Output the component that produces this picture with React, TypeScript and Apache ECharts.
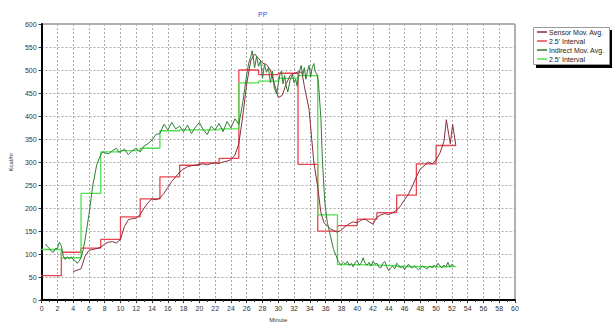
import React, { useEffect, useRef } from "react";
import * as echarts from "echarts";

const xTicks = { min: 0, max: 60, interval: 2 };
const yTicks = { min: 0, max: 600, interval: 50 };

const seriesNames = ["Sensor Mov. Avg.", "2.5' Interval", "Indirect Mov. Avg.", "2.5' Interval"];
const seriesColors = ["#8c2d3c", "#ea4450", "#2f7d32", "#4fe04f"];

// Sensor 2.5' interval averages (start minute, value)
const sensorInterval: [number, number][] = [
  [0, 53], [2.5, 104], [5, 113], [7.5, 132], [10, 181], [12.5, 220], [15, 268], [17.5, 293],
  [20, 298], [22.5, 308], [25, 500], [27.5, 490], [30, 493], [32.5, 295], [35, 150], [37.5, 162],
  [40, 176], [42.5, 190], [45, 228], [47.5, 296], [50, 336], [52.5, 336],
];

// Indirect 2.5' interval averages
const indirectInterval: [number, number][] = [
  [0, 110], [2.5, 92], [5, 232], [7.5, 322], [10, 325], [12.5, 330], [15, 368], [17.5, 370],
  [20, 370], [22.5, 372], [25, 472], [27.5, 476], [30, 482], [32.5, 488], [35, 185], [37.5, 77],
  [40, 76], [42.5, 75], [45, 73], [47.5, 72], [50, 73], [52.5, 73],
];

// Sensor moving average
const sensorMA: [number, number][] = [
  [4.0, 62], [4.5, 65], [5.0, 68], [5.5, 95], [6.0, 108], [6.5, 110], [7.0, 112], [7.5, 115],
  [8.0, 122], [8.5, 126], [9.0, 127], [9.5, 124], [10.0, 132], [10.5, 160], [11.0, 175], [11.5, 177],
  [12.0, 178], [12.5, 186], [13.0, 200], [13.5, 212], [14.0, 220], [14.5, 218], [15.0, 222], [15.5, 232],
  [16.0, 245], [16.5, 258], [17.0, 268], [17.5, 278], [18.0, 285], [18.5, 290], [19.0, 292], [19.5, 293],
  [20.0, 295], [20.5, 296], [21.0, 294], [21.5, 297], [22.0, 298], [22.5, 297], [23.0, 300], [23.5, 302],
  [24.0, 305], [24.5, 315], [25.0, 340], [25.5, 400], [26.0, 470], [26.5, 520], [27.0, 535], [27.5, 525],
  [28.0, 515], [28.5, 512], [29.0, 500], [29.5, 470], [30.0, 440], [30.5, 445], [31.0, 470], [31.5, 488],
  [32.0, 492], [32.5, 496], [33.0, 495], [33.3, 465], [33.9, 415], [34.5, 300], [35.0, 245], [35.4, 190],
  [35.8, 168], [36.6, 155], [37.4, 148], [37.9, 151], [38.5, 160], [39.0, 166], [39.5, 170], [40.0, 168],
  [40.5, 174], [41.0, 176], [41.5, 170], [42.0, 165], [42.5, 180], [43.0, 185], [43.5, 188], [44.0, 186],
  [44.5, 190], [45.0, 195], [45.5, 205], [46.0, 218], [46.5, 230], [47.0, 248], [47.5, 268], [48.0, 285],
  [48.5, 292], [49.0, 300], [49.5, 296], [50.0, 305], [50.5, 320], [51.0, 345], [51.3, 392], [51.6, 360],
  [51.8, 340], [52.1, 382], [52.5, 336],
];

// Indirect moving average
const indirectMA: [number, number][] = [
  [0.5, 122], [0.75, 116], [1.0, 112], [1.25, 106], [1.5, 104], [1.75, 112], [2.0, 112], [2.25, 126],
  [2.5, 118], [2.75, 96], [3.0, 88], [3.25, 94], [3.5, 90], [3.75, 94], [4.0, 88], [4.25, 86],
  [4.5, 80], [4.75, 84], [5.0, 92], [5.25, 108], [5.5, 130], [6.0, 185], [6.5, 250], [7.0, 295],
  [7.5, 316], [7.75, 322], [8.0, 320], [8.5, 318], [9.0, 325], [9.5, 330], [9.75, 322], [10.0, 322],
  [10.5, 328], [11.0, 316], [11.5, 325], [12.0, 330], [12.5, 322], [13.0, 335], [13.5, 340], [14.0, 348],
  [14.5, 360], [15.0, 362], [15.5, 382], [16.0, 370], [16.5, 386], [17.0, 372], [17.5, 378], [18.0, 366],
  [18.5, 380], [19.0, 362], [19.5, 376], [20.0, 386], [20.5, 370], [21.0, 360], [21.5, 378], [22.0, 370],
  [22.5, 384], [23.0, 366], [23.5, 388], [24.0, 374], [24.5, 394], [25.0, 382], [25.25, 405], [25.5, 430],
  [25.75, 460], [26.0, 490], [26.25, 515], [26.5, 528], [26.7, 542], [27.0, 505], [27.25, 530], [27.5, 508],
  [27.75, 520], [28.0, 482], [28.25, 512], [28.5, 495], [28.75, 505], [29.0, 472], [29.25, 498], [29.5, 460],
  [29.8, 448], [30.0, 470], [30.2, 490], [30.4, 498], [30.6, 470], [30.8, 488], [31.0, 465], [31.2, 452],
  [31.5, 478], [31.8, 490], [32.0, 472], [32.2, 480], [32.4, 465], [32.6, 490], [32.9, 510], [33.1, 488],
  [33.3, 505], [33.5, 480], [33.7, 498], [33.9, 510], [34.1, 485], [34.3, 505], [34.5, 514], [34.7, 495],
  [34.9, 492], [35.1, 470], [35.4, 395], [35.6, 300], [35.9, 212], [36.2, 170], [36.6, 140], [37.0, 110],
  [37.3, 98], [37.6, 84], [37.9, 77], [38.25, 82], [38.5, 78], [38.75, 84], [39.0, 75], [39.25, 80],
  [39.5, 72], [39.75, 82], [40.0, 86], [40.25, 76], [40.5, 80], [40.75, 92], [41.0, 80], [41.25, 76],
  [41.5, 82], [41.75, 74], [42.0, 84], [42.25, 78], [42.5, 80], [42.75, 72], [43.0, 70], [43.25, 80],
  [43.5, 84], [43.75, 72], [44.0, 64], [44.25, 70], [44.5, 74], [44.75, 68], [45.0, 80], [45.25, 76],
  [45.5, 70], [45.75, 74], [46.0, 66], [46.25, 72], [46.5, 78], [46.75, 72], [47.0, 70], [47.25, 74],
  [47.5, 70], [47.75, 66], [48.0, 70], [48.25, 74], [48.5, 72], [48.75, 68], [49.0, 70], [49.25, 74],
  [49.5, 70], [49.75, 76], [50.0, 72], [50.25, 80], [50.5, 74], [50.75, 70], [51.0, 76], [51.25, 72],
  [51.5, 82], [51.75, 72], [52.0, 78], [52.25, 74],
];

const FONT = "Liberation Sans, Arial, sans-serif";

export default function App() {
  const ref = useRef<HTMLDivElement>(null);
  useEffect(() => {
    const chart = echarts.init(ref.current!, null, { renderer: "svg" });
    const legendRows = [32, 41, 50, 59];
    const legendGraphics: any[] = [
      { type: "rect", shape: { x: 536, y: 30, width: 76, height: 38 }, style: { fill: "#000" }, z: 1 },
      { type: "rect", shape: { x: 533.5, y: 27.5, width: 76, height: 37 }, style: { fill: "#fff", stroke: "#999", lineWidth: 1 }, z: 2 },
    ];
    seriesNames.forEach((n, i) => {
      legendGraphics.push({
        type: "line",
        shape: { x1: 537, y1: legendRows[i], x2: 547, y2: legendRows[i] },
        style: { stroke: seriesColors[i], lineWidth: 1.5 },
        z: 3,
      });
      legendGraphics.push({
        type: "text",
        x: 549,
        y: legendRows[i],
        style: { text: n, fill: "#222", fontSize: 7, fontFamily: FONT, verticalAlign: "middle" },
        z: 3,
      });
    });
    const axisCommon = {
      axisLine: { show: true, lineStyle: { color: "#000", width: 2 } },
      axisTick: { show: true, length: 3, lineStyle: { color: "#333" } },
      axisLabel: { fontSize: 7, color: "#333", fontFamily: FONT },
      splitLine: { show: true, lineStyle: { color: "#aaa", type: [2, 2], width: 1 } },
      nameTextStyle: { fontSize: 6, color: "#333", fontFamily: FONT },
    };
    chart.setOption({
      animation: false,
      backgroundColor: "#fff",
      title: {
        text: "PP",
        left: 253,
        top: 6,
        textStyle: { fontSize: 7, color: "#4a4ae0", fontWeight: "normal", fontFamily: FONT },
      },
      grid: {
        left: 32,
        right: 97,
        top: 24,
        bottom: 22,
        show: true,
        borderColor: "#666",
        borderWidth: 1,
      },
      xAxis: {
        type: "value",
        ...xTicks,
        ...axisCommon,
        axisLabel: { ...axisCommon.axisLabel, margin: 5 },
        minorTick: { show: true, splitNumber: 2, length: 2, lineStyle: { color: "#333" } },
        name: "Minute",
        nameLocation: "middle",
        nameGap: 15,
      },
      yAxis: {
        type: "value",
        ...yTicks,
        ...axisCommon,
        axisLabel: { ...axisCommon.axisLabel, margin: 5 },
        name: "Kcal/hr",
        nameLocation: "middle",
        nameGap: 22,
        nameRotate: 90,
      },
      graphic: legendGraphics,
      series: [
        {
          name: seriesNames[0],
          type: "line",
          data: sensorMA,
          showSymbol: false,
          lineStyle: { color: seriesColors[0], width: 1 },
          z: 3,
        },
        {
          name: seriesNames[1],
          type: "line",
          step: "end",
          data: sensorInterval,
          showSymbol: false,
          lineStyle: { color: seriesColors[1], width: 1.3 },
          z: 2,
        },
        {
          name: seriesNames[2],
          type: "line",
          data: indirectMA,
          showSymbol: false,
          lineStyle: { color: seriesColors[2], width: 1 },
          z: 3,
        },
        {
          name: seriesNames[3],
          type: "line",
          step: "end",
          data: indirectInterval,
          showSymbol: false,
          lineStyle: { color: seriesColors[3], width: 1.3 },
          z: 2,
        },
      ],
    });
    return () => chart.dispose();
  }, []);
  return <div ref={ref} style={{ position: "absolute", left: 0, top: 0, width: 612, height: 328 }} />;
}
